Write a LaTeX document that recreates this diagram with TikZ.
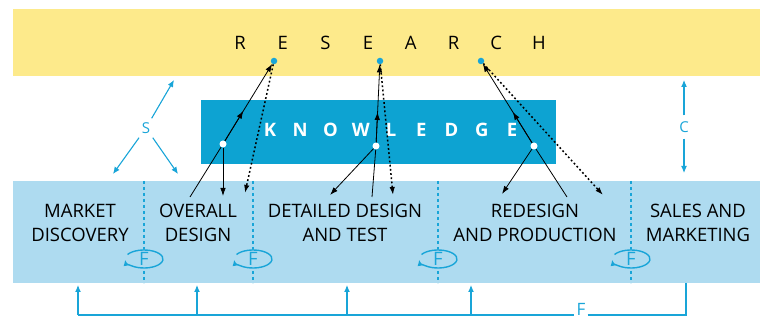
\documentclass[tikz,border=0pt]{standalone}
\usepackage{fontspec}
\setmainfont{Open Sans}
\usetikzlibrary{positioning,arrows.meta,shapes,calc}
\definecolor{resyellow}{HTML}{FDEA8B}
\definecolor{knowblue}{HTML}{0DA3D2}
\definecolor{stageblue}{HTML}{AEDBF0}
\definecolor{lineblue}{HTML}{19A5D8}
\tikzset{
	every picture/.style={/utils/exec={\fontsize{18.5}{24}\selectfont}},
	rdot/.style={circle, fill=lineblue, inner sep=0, minimum size=6.5pt},
	kdot/.style={circle, fill=white, inner sep=0, minimum size=7pt},
	stage/.style={align=center, text=black, inner sep=0},
	flow/.style={-{Latex[length=8pt,width=5.5pt]}, line width=0.8pt},
	back/.style={flow, dash pattern=on 1.8pt off 2.4pt, line width=1.5pt},
	blueline/.style={lineblue, line width=1.1pt, -{Latex[length=7pt,width=6pt]}},
	divider/.style={lineblue, line width=1.4pt, dash pattern=on 3pt off 3pt},
	floop/.style={ellipse, fill=stageblue, text=lineblue, minimum width=38pt, minimum height=18pt, inner sep=0},
}
\begin{document}
\begin{tikzpicture}[x=1pt, y=-1pt]
			\useasboundingbox (0,0) rectangle (760,320);
			% bands
			\fill[resyellow] (13,9) rectangle (760,76);
			\fill[knowblue] (201,100) rectangle (556,164);
			\fill[stageblue] (13,181) rectangle (760,283);
			
			\foreach \l [count=\i] in {R,E,S,E,A,R,C,H}
				\node (res\i) at ({240+42.7*(\i-1)},43) {\l};
			\foreach \l [count=\i] in {K,N,O,W,L,E,D,G,E}
				\node[text=white, font=\bfseries] (kn\i) at ({270+30.25*(\i-1)},130) {\l};
			
			% stages
			\foreach \x in {144,253,438,631}
				\draw[divider] (\x,181) -- (\x,283);
			\foreach \x [count=\i] in {144,253,438,631} {
				\node[floop] (f\i) at (\x,259) {F};
				\draw[lineblue, line width=1.4pt, -{Latex[length=6pt,width=5.5pt]}] (f\i.center) ++(210:19 and 9)
					arc[start angle=210, end angle=535, x radius=19, y radius=9];
			}
			\node[stage] (market) at (80,223) {MARKET\\DISCOVERY};
			\node[stage] (overall) at (198,223) {OVERALL\\DESIGN};
			\node[stage] (detail) at (345,223) {DETAILED DESIGN\\AND TEST};
			\node[stage] (redesign) at (535,223) {REDESIGN\\AND PRODUCTION};
			\node[stage] (sales) at (698,223) {SALES AND\\MARKETING};
			
			% research and knowledge points
			\node[rdot] (r1) at (274,61) {};
			\node[rdot] (r2) at (380,61) {};
			\node[rdot] (r3) at (481,61) {};
			\node[kdot] (k1) at (223,144) {};
			\node[kdot] (k2) at (376,146) {};
			\node[kdot] (k3) at (534,146) {};
			\coordinate (ou) at (190,197);
			\coordinate (od) at (223,196);
			\coordinate (ob) at (245,193);
			\coordinate (du) at (372,197);
			\coordinate (dd) at (330,195);
			\coordinate (db) at (393,195);
			\coordinate (ru) at (567,197);
			\coordinate (rd) at (502,194);
			\coordinate (rb) at (603,195);
			
			\draw[line width=0.8pt] (ou) -- (k1);
			\draw[flow] (k1) -- ($(k1)!0.4!(r1)$);
			\draw[flow] (k1) -- (r1);
			\draw[flow] (k1) -- (od);
			\draw[back] (r1) -- (ob);
			
			\draw[line width=0.8pt] (du) -- (k2);
			\draw[flow] (k2) -- ($(k2)!0.4!(r2)$);
			\draw[flow] (k2) -- (r2);
			\draw[flow] (k2) -- (dd);
			\draw[back] (r2) -- (db);
			
			\draw[line width=0.8pt] (ru) -- (k3);
			\draw[flow] (k3) -- ($(k3)!0.4!(r3)$);
			\draw[flow] (k3) -- (r3);
			\draw[flow] (k3) -- (rd);
			\draw[back] (r3) -- (rb);
			
			% S and C
			\node[text=lineblue, inner sep=4pt, font=\fontsize{15}{18}\selectfont] (s) at (146,128) {S};
			\coordinate (s1) at (174,80);
			\coordinate (s2) at (113,174);
			\coordinate (s3) at (178,174);
			\draw[blueline] (s) -- (s1);
			\draw[blueline] (s) -- (s2);
			\draw[blueline] (s) -- (s3);
			\node[text=lineblue, inner sep=6pt, font=\fontsize{15}{18}\selectfont] (c) at (684,127) {C};
			\coordinate (c1) at (684,80);
			\coordinate (c2) at (684,173);
			\draw[blueline] (c) -- (c1);
			\draw[blueline] (c) -- (c2);
			
			% feedback
			\node[text=lineblue, inner sep=2pt, font=\fontsize{17}{20}\selectfont] (fb) at (581,309) {F};
			\coordinate (fl) at (78,315);
			\coordinate (fe) at (686,315);
			\coordinate (fr) at (686,283);
			\draw[lineblue, line width=1.1pt] (fl) -- (fb.west |- fl);
			\draw[lineblue, line width=1.1pt] (fb.east |- fl) -- (fe) -- (fr);
			\foreach \x in {78,197,347,471} {
				\coordinate (up\x) at (\x,285);
				\draw[blueline] (\x,315) -- (up\x);
			}
\end{tikzpicture}
\end{document}
